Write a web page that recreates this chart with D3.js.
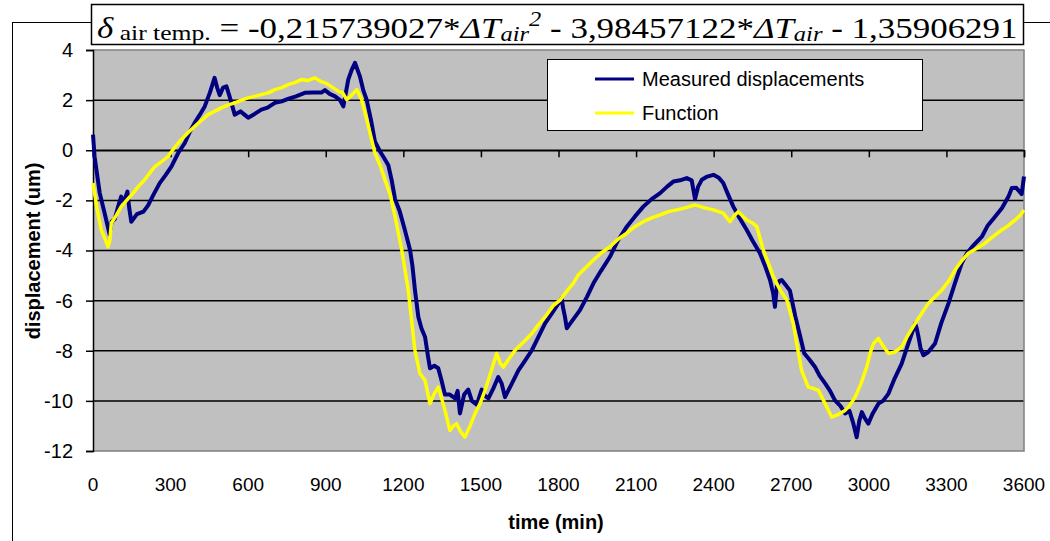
<!DOCTYPE html>
<html>
<head>
<meta charset="utf-8">
<script src="https://cdn.jsdelivr.net/npm/d3@7"></script>
<style>
  html, body { margin: 0; padding: 0; background: #fff; }
  svg { display: block; }
</style>
</head>
<body>
<svg id="chart" width="1050" height="541"></svg>
<script>
// Measured displacement record: [time (min), displacement (um)]
const measuredPoints = [
  [0,0.62],[6,-0.25],[26,-1.71],[45,-2.51],[64,-3.35],[72,-2.85],[84,-2.75],[97,-2.25],[109,-1.85],[118,-2.1],
  [133,-1.65],[140,-2.3],[148,-2.85],[170,-2.55],[195,-2.45],[213,-2.2],[235,-1.75],[258,-1.31],[280,-1.0],[303,-0.65],
  [330,-0.1],[355,0.29],[375,0.75],[393,1.09],[412,1.4],[432,1.75],[452,2.3],[470,2.89],[480,2.5],[490,2.2],
  [503,2.5],[516,2.55],[528,2.15],[548,1.42],[570,1.55],[600,1.3],[625,1.45],[651,1.62],[675,1.7],[703,1.89],
  [730,1.95],[754,2.05],[785,2.15],[819,2.29],[850,2.3],[883,2.3],[897,2.4],[915,2.25],[936,2.15],[955,2.0],
  [968,1.75],[987,2.82],[1000,3.2],[1013,3.49],[1032,2.95],[1045,2.4],[1058,2.02],[1075,1.2],[1090,0.35],[1110,-0.05],
  [1125,-0.3],[1142,-0.6],[1155,-1.2],[1168,-1.95],[1185,-2.4],[1206,-3.18],[1226,-3.98],[1235,-4.6],[1245,-5.58],[1258,-6.65],
  [1270,-7.1],[1284,-7.45],[1295,-8.2],[1303,-8.7],[1320,-8.6],[1335,-8.7],[1348,-9.2],[1361,-9.75],[1380,-9.75],[1400,-9.9],
  [1410,-9.6],[1419,-10.5],[1435,-9.75],[1451,-9.55],[1465,-10.0],[1484,-10.15],[1503,-9.55],[1516,-9.8],[1529,-9.9],[1548,-9.5],
  [1567,-9.05],[1580,-9.3],[1593,-9.85],[1620,-9.3],[1645,-8.78],[1670,-8.4],[1697,-7.98],[1720,-7.5],[1748,-6.91],[1775,-6.5],
  [1800,-6.11],[1812,-5.91],[1818,-6.3],[1825,-6.65],[1832,-7.1],[1850,-6.85],[1883,-6.38],[1910,-5.85],[1935,-5.31],[1965,-4.8],
  [1999,-4.25],[2030,-3.6],[2064,-3.05],[2095,-2.65],[2128,-2.25],[2160,-1.95],[2193,-1.71],[2220,-1.45],[2244,-1.25],[2270,-1.2],
  [2296,-1.11],[2315,-1.2],[2328,-1.95],[2340,-1.45],[2354,-1.18],[2375,-1.05],[2399,-0.98],[2420,-1.1],[2437,-1.31],[2455,-1.75],
  [2476,-2.25],[2500,-2.7],[2528,-3.18],[2550,-3.6],[2579,-4.11],[2600,-4.65],[2618,-5.18],[2630,-5.7],[2637,-6.25],[2644,-5.45],
  [2655,-5.2],[2663,-5.18],[2680,-5.4],[2695,-5.6],[2715,-6.6],[2734,-7.4],[2750,-8.1],[2770,-8.35],[2792,-8.65],[2810,-9.0],
  [2831,-9.3],[2850,-9.6],[2869,-9.98],[2890,-10.2],[2908,-10.5],[2925,-10.4],[2940,-10.9],[2953,-11.45],[2963,-10.8],[2973,-10.45],
  [2985,-10.7],[2998,-10.91],[3015,-10.5],[3037,-10.11],[3055,-10.0],[3076,-9.71],[3100,-9.1],[3127,-8.51],[3150,-7.8],[3170,-7.2],
  [3179,-6.91],[3185,-7.1],[3192,-7.45],[3200,-7.9],[3211,-8.18],[3230,-8.05],[3256,-7.71],[3280,-6.9],[3308,-6.11],[3333,-5.3],
  [3359,-4.51],[3380,-4.1],[3400,-3.85],[3437,-3.45],[3460,-3.0],[3488,-2.65],[3515,-2.3],[3540,-1.85],[3553,-1.51],[3570,-1.5],
  [3591,-1.75],[3600,-1.05]
];

// Fitted air-temperature function: [time (min), displacement (um)]
const functionPoints = [
  [0,-1.31],[15,-2.3],[32,-3.18],[45,-3.5],[58,-3.85],[65,-3.6],[71,-2.91],[90,-2.6],[109,-2.25],[130,-2.0],
  [155,-1.71],[175,-1.45],[200,-1.18],[220,-0.9],[239,-0.65],[265,-0.45],[290,-0.25],[315,0.1],[341,0.42],[367,0.7],
  [393,0.95],[420,1.2],[445,1.42],[470,1.55],[496,1.69],[520,1.8],[548,1.89],[575,2.0],[600,2.09],[625,2.15],
  [651,2.22],[680,2.3],[703,2.42],[730,2.5],[754,2.62],[780,2.7],[806,2.82],[830,2.78],[857,2.89],[880,2.75],
  [897,2.69],[920,2.55],[949,2.35],[965,2.3],[981,2.02],[1000,2.2],[1020,2.42],[1039,2.02],[1065,0.95],[1090,-0.11],
  [1110,-0.6],[1129,-1.18],[1150,-1.8],[1168,-2.65],[1194,-3.98],[1219,-5.58],[1232,-6.8],[1245,-7.98],[1264,-8.91],[1284,-9.18],
  [1303,-10.11],[1320,-9.7],[1335,-9.45],[1348,-9.9],[1361,-10.38],[1380,-11.18],[1393,-11.0],[1406,-10.91],[1420,-11.2],[1438,-11.45],
  [1458,-11.0],[1477,-10.51],[1497,-10.1],[1516,-9.58],[1540,-8.8],[1561,-8.11],[1575,-8.5],[1587,-8.65],[1610,-8.3],[1632,-7.98],
  [1665,-7.65],[1697,-7.31],[1720,-7.0],[1748,-6.65],[1780,-6.2],[1806,-5.98],[1830,-5.65],[1857,-5.31],[1875,-5.0],[1896,-4.78],
  [1935,-4.38],[1965,-4.1],[1999,-3.85],[2030,-3.55],[2064,-3.31],[2095,-3.05],[2128,-2.85],[2160,-2.7],[2193,-2.58],[2225,-2.45],
  [2257,-2.38],[2290,-2.3],[2328,-2.18],[2365,-2.3],[2399,-2.38],[2437,-2.51],[2463,-2.85],[2480,-2.6],[2495,-2.45],[2528,-2.78],
  [2550,-2.9],[2567,-3.05],[2592,-3.98],[2615,-4.6],[2631,-5.05],[2657,-5.58],[2683,-5.98],[2708,-6.91],[2721,-7.71],[2740,-8.78],
  [2766,-9.45],[2785,-9.5],[2805,-9.58],[2831,-10.11],[2857,-10.65],[2880,-10.55],[2908,-10.38],[2925,-10.2],[2947,-9.85],[2970,-9.3],
  [2992,-8.65],[3005,-8.1],[3018,-7.71],[3037,-7.51],[3055,-7.8],[3076,-8.11],[3100,-8.05],[3127,-7.85],[3150,-7.4],[3179,-6.91],
  [3205,-6.5],[3230,-6.11],[3256,-5.85],[3282,-5.58],[3310,-5.2],[3333,-4.78],[3360,-4.4],[3385,-4.11],[3420,-3.9],[3449,-3.71],
  [3480,-3.45],[3514,-3.18],[3540,-3.0],[3566,-2.78],[3585,-2.6],[3600,-2.38]
];

const xTicks = [0,300,600,900,1200,1500,1800,2100,2400,2700,3000,3300,3600];
const yTicks = [-12,-10,-8,-6,-4,-2,0,2,4];
const seriesNames = ["Measured displacements", "Function"];
const seriesColors = ["#000080", "#FFFF00"];

const svg = d3.select("#chart");
const plot = { left: 93, right: 1024, top: 50, bottom: 451 };

const x = d3.scaleLinear().domain([0, 3600]).range([plot.left, plot.right]);
const y = d3.scaleLinear().domain([-12, 4]).range([plot.bottom, plot.top]);

// plain hyphen-minus labels
const plainNumber = d => String(d);

// chart-area frame (runs off the right and bottom edges)
svg.append("rect")
  .attr("x", 12.5).attr("y", 22.5).attr("width", 1100).attr("height", 600)
  .attr("fill", "#fff").attr("stroke", "#000").attr("stroke-width", 1);

// plot area
svg.append("rect")
  .attr("x", plot.left).attr("y", plot.top)
  .attr("width", plot.right - plot.left).attr("height", plot.bottom - plot.top)
  .attr("fill", "#C0C0C0");

// horizontal gridlines
svg.append("g")
  .selectAll("line")
  .data(yTicks.filter(v => v > -12 && v < 4))
  .join("line")
  .attr("x1", plot.left).attr("x2", plot.right)
  .attr("y1", d => y(d)).attr("y2", d => y(d))
  .attr("stroke", "#000").attr("stroke-width", 1.5);

// plot area border (top, right, bottom)
svg.append("path")
  .attr("d", `M${plot.left},${plot.top}H${plot.right}V${plot.bottom}H${plot.left}`)
  .attr("fill", "none").attr("stroke", "#808080").attr("stroke-width", 1.5);

const tickFont = "Liberation Sans, Arial, sans-serif";

// y axis
const yAxis = svg.append("g")
  .attr("transform", `translate(${plot.left},0)`)
  .call(d3.axisLeft(y).tickValues(yTicks).tickSize(7).tickPadding(13).tickFormat(plainNumber));
yAxis.select(".domain").attr("stroke", "#000").attr("stroke-width", 1.5);
yAxis.selectAll(".tick line").attr("stroke", "#000").attr("stroke-width", 1.5);
yAxis.selectAll(".tick text")
  .attr("fill", "#000").attr("font-family", tickFont).attr("font-size", 20);

// x axis crossing at zero; its labels sit below the plot area
const xAxis = svg.append("g")
  .attr("transform", `translate(0,${y(0)})`)
  .call(d3.axisBottom(x).tickValues(xTicks).tickSize(7).tickFormat(plainNumber));
xAxis.select(".domain").attr("stroke", "#000").attr("stroke-width", 1.5);
xAxis.selectAll(".tick line").attr("stroke", "#000").attr("stroke-width", 1.5);
xAxis.selectAll(".tick text").remove();

svg.append("g")
  .selectAll("text")
  .data(xTicks)
  .join("text")
  .attr("x", d => x(d)).attr("y", 491)
  .attr("text-anchor", "middle")
  .attr("font-family", tickFont).attr("font-size", 19).attr("fill", "#000")
  .text(plainNumber);

// series lines
const line = d3.line().x(d => x(d[0])).y(d => y(d[1]));

svg.append("path")
  .datum(measuredPoints)
  .attr("d", line)
  .attr("fill", "none").attr("stroke", seriesColors[0])
  .attr("stroke-width", 4).attr("stroke-linejoin", "round");

svg.append("path")
  .datum(functionPoints)
  .attr("d", line)
  .attr("fill", "none").attr("stroke", seriesColors[1])
  .attr("stroke-width", 3.5).attr("stroke-linejoin", "round");

// axis titles
svg.append("text")
  .attr("transform", "translate(40,251) rotate(-90)")
  .attr("text-anchor", "middle")
  .attr("font-family", tickFont).attr("font-weight", "bold").attr("font-size", 20)
  .text("displacement (um)");

svg.append("text")
  .attr("x", 556).attr("y", 529)
  .attr("text-anchor", "middle")
  .attr("font-family", tickFont).attr("font-weight", "bold").attr("font-size", 20)
  .text("time (min)");

// legend
const legend = svg.append("g");
legend.append("rect")
  .attr("x", 547.5).attr("y", 59.5).attr("width", 375).attr("height", 71)
  .attr("fill", "#fff").attr("stroke", "#000").attr("stroke-width", 1);
seriesNames.forEach((name, i) => {
  const ly = 79 + i * 34;
  legend.append("line")
    .attr("x1", 595).attr("x2", 634).attr("y1", ly).attr("y2", ly)
    .attr("stroke", seriesColors[i]).attr("stroke-width", 3);
  legend.append("text")
    .attr("x", 642).attr("y", ly + 7)
    .attr("font-family", tickFont).attr("font-size", 20).attr("fill", "#000")
    .text(name);
});

// equation box
svg.append("rect")
  .attr("x", 91.5).attr("y", 4.5).attr("width", 932).attr("height", 40)
  .attr("fill", "#fff").attr("stroke", "#000").attr("stroke-width", 1.5);

const eqX = 97, eqWidth = 921;
const eq = svg.append("text")
  .attr("x", eqX).attr("y", 38)
  .attr("font-family", "Liberation Serif, Times New Roman, serif")
  .attr("font-size", 30).attr("fill", "#000");
eq.append("tspan").attr("font-style", "italic").text("δ");
eq.append("tspan").attr("font-size", 22).attr("dy", 2).text(" air temp.");
eq.append("tspan").attr("dy", -2).text(" = -0,215739027*");
eq.append("tspan").attr("font-style", "italic").text("ΔT");
eq.append("tspan").attr("font-style", "italic").attr("font-size", 21).attr("dy", 3).text("air");
eq.append("tspan").attr("font-style", "italic").attr("font-size", 21).attr("dy", -15).text("2");
eq.append("tspan").attr("dy", 12).text(" - 3,98457122*");
eq.append("tspan").attr("font-style", "italic").text("ΔT");
eq.append("tspan").attr("font-style", "italic").attr("font-size", 21).attr("dy", 3).text("air");
eq.append("tspan").attr("dy", -3).text(" - 1,35906291");

// fit the equation to the width of its box
const eqBox = eq.node().getBBox();
const sx = eqWidth / eqBox.width;
eq.attr("transform", `translate(${eqX},0) scale(${sx},1) translate(${-eqX},0)`);
</script>
</body>
</html>
